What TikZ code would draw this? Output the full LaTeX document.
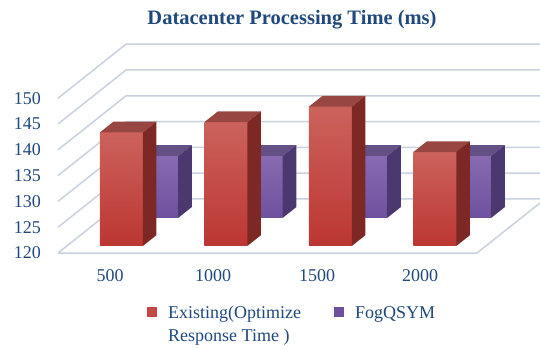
\documentclass[tikz,border=0pt]{standalone}
\usepackage{fontspec}
\setmainfont{Liberation Serif}

\definecolor{txtblue}{RGB}{31,73,125}
\definecolor{gridc}{RGB}{200,209,222}
\definecolor{redhi}{RGB}{204,98,92}
\definecolor{redlo}{RGB}{188,54,50}
\definecolor{redside}{RGB}{126,40,38}
\definecolor{redtop}{RGB}{152,70,66}
\definecolor{purhi}{RGB}{136,106,178}
\definecolor{purlo}{RGB}{110,80,158}
\definecolor{purside}{RGB}{74,56,110}
\definecolor{purtop}{RGB}{100,80,132}

% one 3-D column: #1 left x, #2 value, #3 front depth, #4 back depth, #5 series prefix
\newcommand\columnbar[5]{%
  \shade[top color=#5hi, bottom color=#5lo]
    ({px(#1,#3)},{py(120,#3)}) rectangle ({px(#1+43,#3)},{py(#2,#3)});
  \fill[#5top]
    ({px(#1,#3)},{py(#2,#3)}) -- ({px(#1+43,#3)},{py(#2,#3)}) --
    ({px(#1+43,#4)},{py(#2,#4)}) -- ({px(#1,#4)},{py(#2,#4)}) -- cycle;
  \fill[#5side]
    ({px(#1+43,#3)},{py(120,#3)}) -- ({px(#1+43,#3)},{py(#2,#3)}) --
    ({px(#1+43,#4)},{py(#2,#4)}) -- ({px(#1+43,#4)},{py(120,#4)}) -- cycle;
}

\begin{document}
\begin{tikzpicture}[x=1pt,y=1pt,
  declare function={px(\X,\t)=\X+68*\t; py(\v,\t)=95+(\v-120)*5.16+54*\t;},
  gridline/.style={draw=gridc, line width=1.5pt},
  lbl/.style={text=txtblue, font=\fontsize{18}{21}\selectfont, inner sep=0pt},
  swatch/.style={minimum size=10pt, inner sep=0pt}]
\useasboundingbox (0,0) rectangle (540,348);

% title
\node[anchor=base, text=txtblue, font=\bfseries\fontsize{20.5}{24}\selectfont]
  (title) at (292,323) {Datacenter Processing Time (ms)};

% walls and floor grid
\begin{scope}
\clip (0,0) rectangle (540,348);
\foreach \v in {120,125,...,150}{
  \draw[gridline] ({px(58,0)},{py(\v,0)}) -- ({px(58,1)},{py(\v,1)}) -- (560,{py(\v,1)});
}
\draw[gridline] ({px(58,0)},{py(120,0)}) -- ({px(477,0)},{py(120,0)})
  -- ({px(477,1)},{py(120,1)});
\end{scope}

% value axis labels
\foreach \v in {120,125,...,150}{
  \node[lbl, anchor=base east] (t\v) at (41,{py(\v,0)-6}) {\v};
}

% back series: FogQSYM
\foreach \X in {91,195.5,300,404}{
  \columnbar{\X}{132}{0.65}{0.85}{pur}
}
% front series: Existing
\columnbar{91}{142}{0.13}{0.33}{red}
\columnbar{195.5}{144}{0.13}{0.33}{red}
\columnbar{300}{147}{0.13}{0.33}{red}
\columnbar{404.5}{138.2}{0.13}{0.33}{red}

% category labels
\node[lbl, anchor=base] (c500)  at (110,67) {500};
\node[lbl, anchor=base] (c1000) at (213,67) {1000};
\node[lbl, anchor=base] (c1500) at (317,67) {1500};
\node[lbl, anchor=base] (c2000) at (420,67) {2000};

% legend
\node[swatch, fill=redlo!90!white] (sw1) at (152,36) {};
\node[lbl, anchor=base west] (leg1a) at (168,30) {Existing(Optimize};
\node[lbl, anchor=base west] (leg1b) at (168,7) {Response Time )};
\node[swatch, fill=purlo] (sw2) at (339,36) {};
\node[lbl, anchor=base west] (leg2) at (355,30) {FogQSYM};
\end{tikzpicture}
\end{document}
